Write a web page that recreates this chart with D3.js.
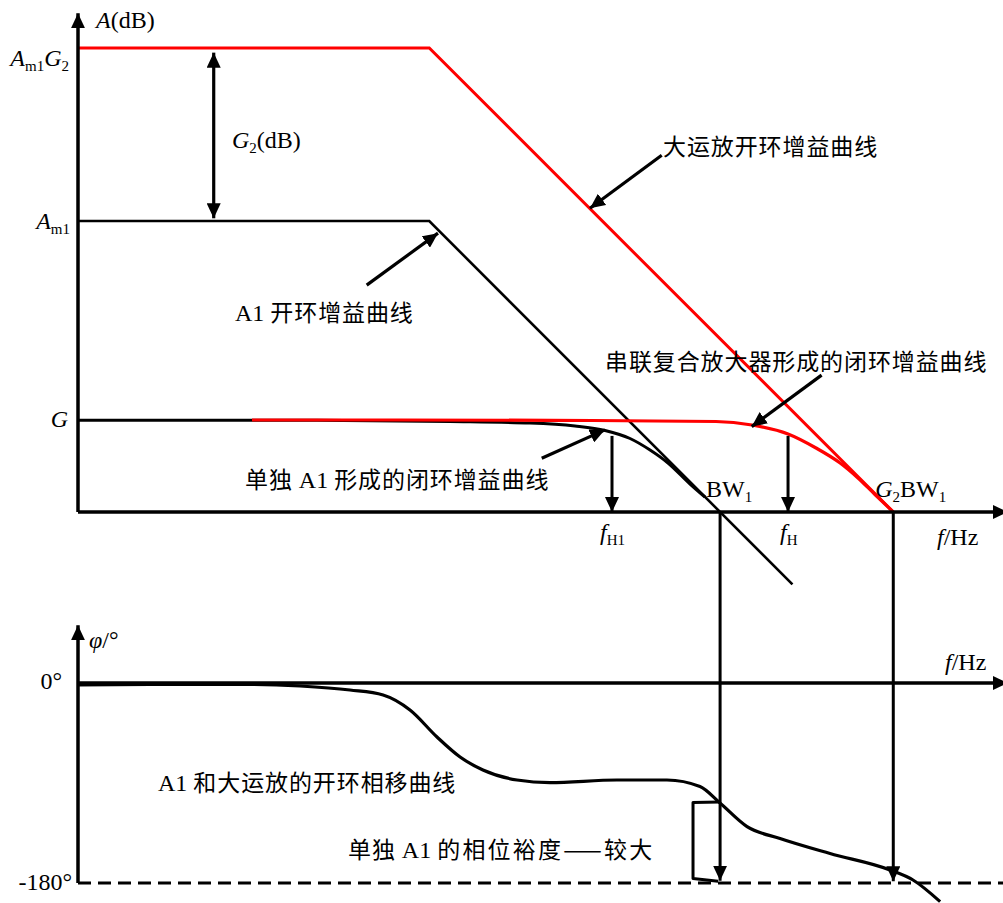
<!DOCTYPE html>
<html><head><meta charset="utf-8">
<script src="https://cdn.jsdelivr.net/npm/d3@7"></script>
<style>body{margin:0;background:#fff}</style>
</head><body><svg id="c" width="1003" height="903"></svg>
<script>
// ---------- data (f in Hz, gain in dB, phase in degrees) ----------
const fAxisEnd = 1.05e10;
const gainTop = 107.5;
const phaseTop = 52;
const G_dB = 19.8, Am1_dB = 62.7, Am1G2_dB = 100;
const fp = 6100, BW1 = 8.3e6, G2BW1 = 6.1e8, fH1 = 5.68e5, fH = 4.48e7;
const a1Open = [[1, 62.7], [6100, 62.7], [5e7, -15.6]];
const ampOpen = [[1, 100], [6100, 100], [6.1e8, 0]];
const a1Closed = [[1, 19.8], [247, 19.76], [1.02e4, 19.5], [7.42e4, 19.18], [2.27e5, 18.53], [4.78e5, 17.56],
  [8.88e5, 15.84], [1.46e6, 13.36], [2.28e6, 10.56], [3.94e6, 6.03], [5.7e6, 3.23]];
const seriesClosed = [[75, 19.83], [2950, 19.83], [1.22e5, 19.76], [7.5e6, 19.5], [1.83e7, 18.75], [4.48e7, 16.81],
  [8.97e7, 13.79], [1.63e8, 10.56], [2.54e8, 7.33], [3.87e8, 3.77], [6.1e8, 0]];
const phaseCurve = [[1, -1.8], [6, -1.2], [71, -1.3], [247, -2.7], [853, -6.3], [1940, -10.8], [3780, -24.3],
  [7390, -48.6], [1.31e4, -66.6], [2.31e4, -78.3], [5.38e4, -87.3], [1.22e5, -89.6], [6.43e5, -87.3],
  [2.22e6, -87.3], [5.04e6, -93.2], [8.28e6, -108], [1.62e7, -129.2], [3.67e7, -140], [1.27e8, -153.5],
  [5.62e8, -168.3], [9.95e8, -177.3], [1.95e9, -196.8]];
const marginBracket = [[8.28e6, -107], [4.24e6, -107.5], [4.24e6, -176], [7.9e6, -178.5]];
// annotation arrows [from, to] in (f, dB)
const arrowAmp = [[1.95e6, 76.9], [3.29e5, 65.45]];
const arrowA1 = [[1291, 48.9], [7570, 60.1]];
const arrowSeries = [[1.03e8, 29.5], [1.82e7, 18.4]];
const arrowA1Closed = [[9.93e4, 11.6], [4.77e5, 17.7]];
const arrowG2 = [[29, 99], [29, 63.3]];

const serif = "'Liberation Serif','Times New Roman',serif";
const cjk = "'Noto Sans CJK SC','Noto Sans',sans-serif";

const svg = d3.select("#c");
const x = d3.scaleLog().domain([1, 1e10]).range([78, 1006]);
const y = d3.scaleLinear().domain([0, 100]).range([512, 48]);
const yp = d3.scaleLinear().domain([0, -180]).range([683, 883]);

const defs = svg.append("defs");
defs.append("marker").attr("id", "ah").attr("viewBox", "0 -7 15 14")
  .attr("refX", 15).attr("refY", 0).attr("markerWidth", 15).attr("markerHeight", 14)
  .attr("markerUnits", "userSpaceOnUse").attr("orient", "auto-start-reverse")
  .append("path").attr("d", "M0,-7L15,0L0,7Z").attr("fill", "#000");

const gLine = d3.line().x(d => x(d[0])).y(d => y(d[1]));
const gCurve = d3.line().x(d => x(d[0])).y(d => y(d[1])).curve(d3.curveMonotoneX);
const pCurve = d3.line().x(d => x(d[0])).y(d => yp(d[1])).curve(d3.curveMonotoneX);
const pLine = d3.line().x(d => x(d[0])).y(d => yp(d[1]));

function seg(x1, y1, x2, y2, w, color, opts) {
  const l = svg.append("line").attr("x1", x1).attr("y1", y1).attr("x2", x2).attr("y2", y2)
    .attr("stroke", color || "#000").attr("stroke-width", w);
  if (opts && opts.end) l.attr("marker-end", "url(#ah)");
  if (opts && opts.start) l.attr("marker-start", "url(#ah)");
  if (opts && opts.dash) l.attr("stroke-dasharray", opts.dash);
  return l;
}

// ---------- gain plot ----------
svg.append("path").datum(a1Open).attr("d", gLine).attr("fill", "none").attr("stroke", "#000").attr("stroke-width", 2.6);
svg.append("path").datum(a1Closed).attr("d", gCurve).attr("fill", "none").attr("stroke", "#000").attr("stroke-width", 3);
svg.append("path").datum(ampOpen).attr("d", gLine).attr("fill", "none").attr("stroke", "#ff0000").attr("stroke-width", 3);
svg.append("path").datum(seriesClosed).attr("d", gCurve).attr("fill", "none").attr("stroke", "#ff0000").attr("stroke-width", 3.2);

// axes
seg(x(1), y(0), x(1), y(gainTop), 3.5, "#000", {end: true});
seg(x(1), y(0), x(fAxisEnd), y(0), 3.5, "#000", {end: true});

// arrows
[arrowAmp, arrowA1, arrowSeries, arrowA1Closed].forEach(a =>
  seg(x(a[0][0]), y(a[0][1]), x(a[1][0]), y(a[1][1]), 3.2, "#000", {end: true}));
seg(x(arrowG2[0][0]), y(arrowG2[0][1]), x(arrowG2[1][0]), y(arrowG2[1][1]), 3.2, "#000", {start: true, end: true});
seg(x(fH1), y(16.4), x(fH1), y(0), 3, "#000", {end: true});
seg(x(fH), y(16.4), x(fH), y(0), 3, "#000", {end: true});

// vertical connectors down to the phase plot
seg(x(BW1), y(0), x(BW1), yp(-178), 3, "#000", {end: true});
seg(x(G2BW1), y(0), x(G2BW1), yp(-178.5), 3, "#000", {end: true});

// ---------- phase plot ----------
seg(x(1), yp(-180), x(1), yp(phaseTop), 3.5, "#000", {end: true});
seg(x(1), yp(0), x(fAxisEnd), yp(0), 3.5, "#000", {end: true});
seg(x(1), yp(-180), x(fAxisEnd), yp(-180), 3, "#000", {dash: "13,7"});
svg.append("path").datum(phaseCurve).attr("d", pCurve).attr("fill", "none").attr("stroke", "#000").attr("stroke-width", 3.2);
svg.append("path").datum(marginBracket).attr("d", pLine).attr("fill", "none").attr("stroke", "#000")
  .attr("stroke-width", 3).attr("stroke-linejoin", "round");

// ---------- text ----------
function rich(px, py, parts, opts) {
  opts = opts || {};
  const t = svg.append("text").attr("x", px).attr("y", py).attr("font-size", 24).attr("fill", "#000");
  if (opts.anchor) t.attr("text-anchor", opts.anchor);
  let shifted = false;
  parts.forEach(p => {
    if (typeof p === "string") p = {t: p};
    const ts = t.append("tspan").text(p.t);
    ts.attr("font-family", p.c ? cjk : serif);
    if (p.c) ts.attr("font-size", 23).attr("letter-spacing", p.ls != null ? p.ls : 0.9);
    if (p.i) ts.attr("font-style", "italic");
    if (p.s) {
      ts.attr("font-size", 15);
      if (!shifted) { ts.attr("dy", 5); shifted = true; }
    } else if (shifted) { ts.attr("dy", -5); shifted = false; }
  });
  return t;
}

rich(x(1) + 18, y(gainTop) + 15, [{t: "A", i: 1}, "(dB)"]);
rich(x(1) - 9, y(Am1G2_dB) + 18, [{t: "A", i: 1}, {t: "m1", s: 1}, {t: "G", i: 1}, {t: "2", s: 1}], {anchor: "end"});
rich(x(1) - 8, y(Am1_dB) + 8, [{t: "A", i: 1}, {t: "m1", s: 1}], {anchor: "end"});
rich(x(1) - 10, y(G_dB) + 7, [{t: "G", i: 1}], {anchor: "end"});
rich(232, 148, [{t: "G", i: 1}, {t: "2", s: 1}, "(dB)"]);
rich(x(BW1) - 14, y(0) - 15, ["BW", {t: "1", s: 1}]);
rich(x(G2BW1) - 18, y(0) - 15, [{t: "G", i: 1}, {t: "2", s: 1}, "BW", {t: "1", s: 1}]);
rich(x(fH1) - 12, y(0) + 28, [{t: "f", i: 1}, {t: "H1", s: 1}]);
rich(x(fH) - 8, y(0) + 28, [{t: "f", i: 1}, {t: "H", s: 1}]);
rich(937, 545, [{t: "f", i: 1}, "/Hz"]);

rich(663, 155, [{t: "大运放开环增益曲线", c: 1}]);
rich(605, 370, [{t: "串联复合放大器形成的闭环增益曲线", c: 1}]);
rich(235, 321, ["A1 ", {t: "开环增益曲线", c: 1}]);
rich(245, 488, [{t: "单独 ", c: 1}, "A1 ", {t: "形成的闭环增益曲线", c: 1}]);
rich(158, 791, ["A1 ", {t: "和大运放的开环相移曲线", c: 1}]);
rich(348, 858, [{t: "单独 ", c: 1}, "A1 ", {t: "的相位裕度——较大", c: 1, ls: 2.2}]);

rich(89, 648, [{t: "φ", i: 1}, "/°"]);
rich(x(1) - 16, yp(0) + 6, ["0°"], {anchor: "end"});
rich(x(1) - 6, yp(-180) + 7, ["-180°"], {anchor: "end"});
rich(945, 670, [{t: "f", i: 1}, "/Hz"]);
</script>
</body></html>
